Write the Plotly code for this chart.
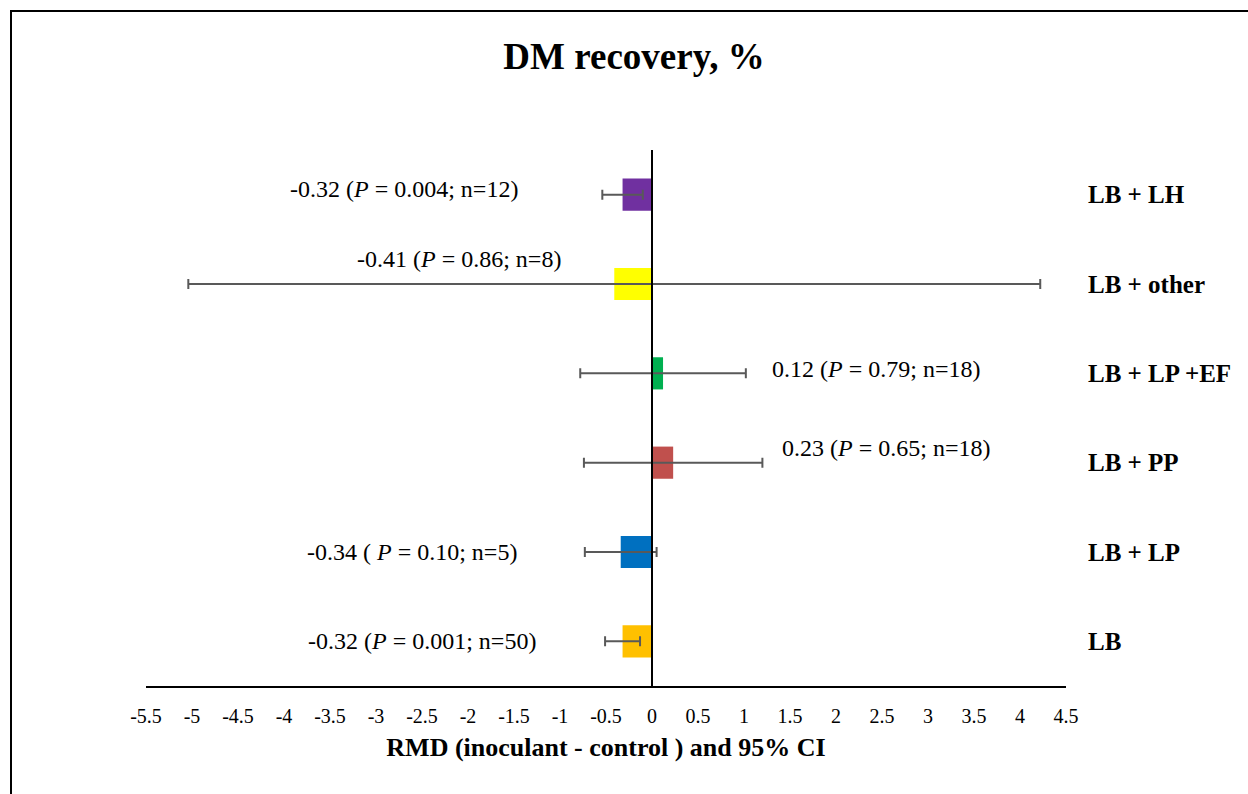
import plotly.graph_objects as go

categories = ["LB", "LB + LP", "LB + PP", "LB + LP +EF", "LB + other", "LB + LH"]
rmd = [-0.32, -0.34, 0.23, 0.12, -0.41, -0.32]
ci_plus = [0.19, 0.39, 0.97, 0.90, 4.63, 0.22]
ci_minus = [0.19, 0.39, 0.97, 0.90, 4.63, 0.22]
colors = ["#FFC000", "#0070C0", "#C0504D", "#00B050", "#FFFF00", "#7030A0"]
labels = [
    "-0.32 (<i>P</i> = 0.001; n=50)",
    "-0.34 ( <i>P</i> = 0.10; n=5)",
    "0.23 (<i>P</i> = 0.65; n=18)",
    "0.12 (<i>P</i> = 0.79; n=18)",
    "-0.41 (<i>P</i> = 0.86; n=8)",
    "-0.32 (<i>P</i> = 0.004; n=12)",
]
label_x = [-2.5, -2.61, 1.39, 1.28, -2.10, -2.70]
label_anchor = ["center", "center", "left", "left", "center", "center"]
label_yshift = [0, 0, 15, 4, 25, 6]
tick_vals = [-5.5 + 0.5 * i for i in range(21)]
tick_text = [("%g" % v) for v in tick_vals]

FONT = "Liberation Serif"

fig = go.Figure()
fig.add_trace(go.Bar(
    y=categories, x=rmd, orientation="h", width=0.36,
    marker=dict(color=colors, line=dict(width=0)),
    error_x=dict(type="data", symmetric=False, array=ci_plus, arrayminus=ci_minus,
                 color="#595959", thickness=2, width=5),
    showlegend=False, hoverinfo="x+y",
))

for c, t, x, a, ys in zip(categories, labels, label_x, label_anchor, label_yshift):
    fig.add_annotation(x=x, y=c, text=t, xanchor=a, yanchor="middle", yshift=ys,
                       showarrow=False, font=dict(family=FONT, size=24, color="black"))

W, H = 1248, 794
L, R, T, B = 146, 182, 150, 108
pw, ph = W - L - R, H - T - B
# zero line
fig.add_shape(type="line", xref="x", yref="paper", x0=0, x1=0, y0=0, y1=1,
              line=dict(color="black", width=2))
# outer border
fig.add_shape(type="rect", xref="paper", yref="paper",
              x0=(11 - L) / pw, x1=(W + 20 - L) / pw,
              y0=-(H + 20 - T - ph) / ph, y1=1 + (T - 11) / ph,
              line=dict(color="black", width=2), fillcolor="rgba(0,0,0,0)")

fig.update_layout(
    width=W, height=H,
    margin=dict(l=L, r=R, t=T, b=B),
    paper_bgcolor="white", plot_bgcolor="white",
    font=dict(family=FONT, color="black"),
    title=dict(text="<b>DM recovery, %</b>", x=634 / W, xanchor="center",
               y=1 - 56 / H, yanchor="middle", yref="container",
               font=dict(family=FONT, size=37, color="black")),
    bargap=0.6,
    xaxis=dict(range=[-5.5, 4.5], tickvals=tick_vals, ticktext=tick_text,
               showgrid=False, zeroline=False, showline=True, linecolor="black",
               linewidth=1.5, ticks="", ticklabelstandoff=11,
               tickfont=dict(family=FONT, size=20, color="black"),
               title=dict(text="<b>RMD (inoculant - control ) and 95% CI</b>",
                          font=dict(family=FONT, size=26, color="black"), standoff=12)),
    yaxis=dict(categoryorder="array", categoryarray=categories, side="right",
               showgrid=False, zeroline=False, showline=False, ticks="",
               ticklabelstandoff=21, range=[-0.5, 5.5],
               tickfont=dict(family=FONT, size=25, color="black", weight="bold")),
)

fig.write_html("out.html")
